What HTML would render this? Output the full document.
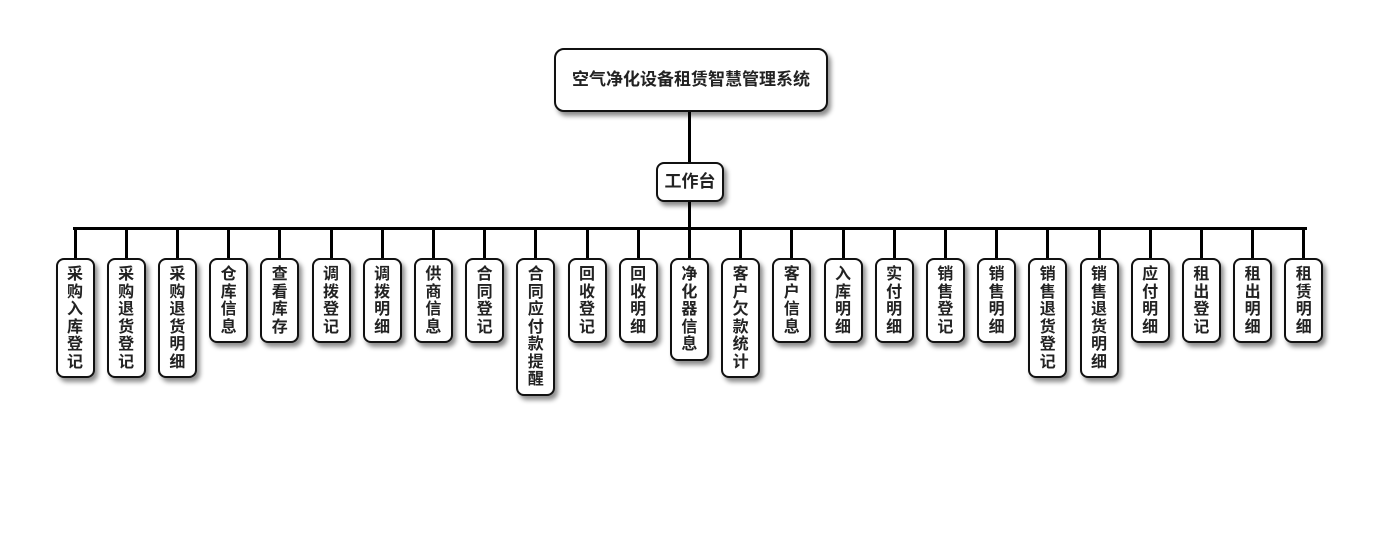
<!DOCTYPE html>
<html><head><meta charset="utf-8"><style>
body{margin:0;width:1380px;height:560px;background:#fff;position:relative;overflow:hidden;font-family:"Liberation Sans","Noto Sans CJK SC",sans-serif;font-weight:bold;color:#222}
.b{position:absolute;background:#fff;border:2px solid #111;box-sizing:border-box;box-shadow:3px 4px 5px rgba(0,0,0,.45);text-align:center}
.l{position:absolute;background:#000}
.leaf{top:258px;width:39px;border-radius:8px;font-size:16px;line-height:17.5px;padding-top:6px}
</style></head><body>
<div class="l" style="left:688px;top:112px;width:3px;height:50px"></div>
<div class="l" style="left:688px;top:202px;width:3px;height:27px"></div>
<div class="l" style="left:73px;top:227px;width:1234px;height:3px"></div>
<div class="b" style="left:554px;top:48px;width:274px;height:64px;border-radius:10px;font-size:17px;line-height:60px">空气净化设备租赁智慧管理系统</div>
<div class="b" style="left:656px;top:162px;width:68px;height:40px;border-radius:8px;font-size:17px;line-height:36px">工作台</div>
<div id="c"></div>
<script>
var n=["采购入库登记","采购退货登记","采购退货明细","仓库信息","查看库存","调拨登记","调拨明细","供商信息","合同登记","合同应付款提醒","回收登记","回收明细","净化器信息","客户欠款统计","客户信息","入库明细","实付明细","销售登记","销售明细","销售退货登记","销售退货明细","应付明细","租出登记","租出明细","租赁明细"];
var h="";
n.forEach(function(s,i){var cx=75+i*51.2;
h+='<div class="l" style="left:'+(cx-1.5)+'px;top:228px;width:3px;height:30px"></div>';
h+='<div class="b leaf" style="left:'+(cx-19.5)+'px;height:'+(15+17.5*s.length)+'px">'+s.split("").join("<br>")+'</div>';});
document.getElementById("c").innerHTML=h;
</script>
</body></html>
